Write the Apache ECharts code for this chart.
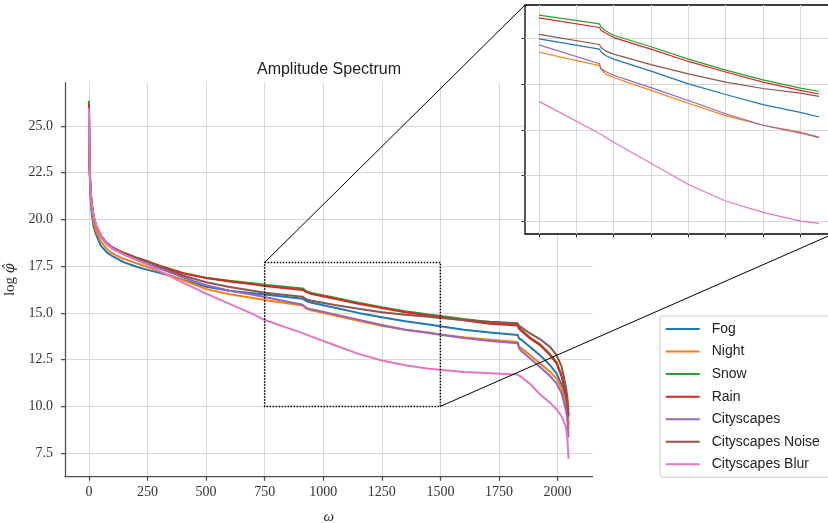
<!DOCTYPE html>
<html><head><meta charset="utf-8">
<script src="https://cdn.jsdelivr.net/npm/echarts@6/dist/echarts.min.js"></script>
<style>html,body{margin:0;padding:0;background:#fff}#c{width:828px;height:523px}</style>
</head><body><div id="c"></div>
<script>
// ---- data ----
const omega = [0,1,2,3,5,8,12,20,30,50, 75,100,150,200,250,300,400,500,600,700, 750,912,916,928,950,1050,1150,1250,1350,1450, 1500,1600,1712,1830,1836,1847,1883,1925,1968,1996, 2018,2036,2042,2047];
const fog = [25.9,24.2,23.2,22.5,21.6,20.9,20.25,19.6,19.2,18.6, 18.25,18.03,17.7,17.48,17.3,17.15,16.78,16.4,16.18,16.05, 15.98,15.76,15.7,15.62,15.54,15.28,15.0,14.77,14.55,14.38, 14.28,14.1,13.95,13.82,13.62,13.55,13.18,12.74,12.2,11.76, 11.14,10.33,9.85,9.0];
const night = [25.9,24.35,23.4,22.7,21.8,21.1,20.5,19.85,19.4,18.82, 18.42,18.18,17.88,17.66,17.45,17.22,16.75,16.27,16.0,15.8, 15.69,15.4,15.32,15.22,15.14,14.86,14.58,14.31,14.1,13.95, 13.84,13.7,13.56,13.45,13.2,13.1,12.74,12.3,11.85,11.5, 10.96,10.16,9.65,8.8];
const snow = [26.35,24.5,23.6,22.9,22.05,21.35,20.8,20.15,19.68,19.12, 18.72,18.47,18.17,17.95,17.74,17.52,17.14,16.88,16.72,16.58, 16.5,16.31,16.24,16.16,16.06,15.81,15.54,15.3,15.09,14.91, 14.84,14.67,14.5,14.4,14.22,14.08,13.68,13.33,12.8,12.36, 11.65,10.7,10.2,9.6];
const rain = [26.15,24.5,23.6,22.9,22.05,21.35,20.8,20.15,19.7,19.15, 18.75,18.5,18.2,17.97,17.76,17.52,17.12,16.86,16.68,16.53, 16.44,16.23,16.17,16.11,16.01,15.76,15.49,15.26,15.04,14.86, 14.78,14.6,14.42,14.32,14.15,14.02,13.63,13.28,12.74,12.3, 11.58,10.6,10.1,9.45];
const cityscapes = [25.9,24.45,23.55,22.85,22.0,21.3,20.75,20.1,19.65,19.08, 18.68,18.43,18.12,17.85,17.62,17.38,16.9,16.48,16.18,15.97, 15.85,15.44,15.34,15.27,15.19,14.92,14.64,14.35,14.1,13.93, 13.83,13.66,13.5,13.38,13.1,12.95,12.56,12.11,11.62,11.23, 10.69,9.8,9.3,8.35];
const cityscapesNoise = [25.9,24.5,23.6,22.9,22.05,21.35,20.8,20.15,19.7,19.15, 18.75,18.5,18.2,17.96,17.74,17.48,17.0,16.64,16.38,16.18, 16.08,15.86,15.8,15.72,15.65,15.42,15.22,15.04,14.9,14.8, 14.73,14.62,14.52,14.45,14.3,14.22,13.9,13.6,13.18,12.74, 12.11,11.05,10.5,9.8];
const cityscapesBlur = [25.95,24.5,23.6,22.9,22.05,21.35,20.8,20.15,19.7,19.12, 18.72,18.45,18.12,17.85,17.57,17.25,16.62,16.03,15.48,14.93, 14.62,13.92,13.9,13.84,13.73,13.27,12.81,12.45,12.2,12.01, 11.96,11.84,11.77,11.7,11.62,11.55,11.2,10.65,10.2,9.85, 9.45,8.9,8.3,7.2];

const seriesNames = ['Fog','Night','Snow','Rain','Cityscapes','Cityscapes Noise','Cityscapes Blur'];
const xTicks = [0,250,500,750,1000,1250,1500,1750,2000];
const yTicks = [7.5,10.0,12.5,15.0,17.5,20.0,22.5,25.0];
const zoomX = [750,1500];
const zoomY = [10,17.7];
const insetXTicks = [750,850,950,1050,1150,1250,1350,1450];
const insetYTicks = [12,13,14,15,16];

// ---- styling / layout ----
const colors = ['#1f77b4','#ff7f0e','#2ca02c','#d62728','#9467bd','#8c564b','#e377c2'];
const allValues = [fog,night,snow,rain,cityscapes,cityscapesNoise,cityscapesBlur];
const mainX = [-102.35, 2149.35], mainY = [6.24, 27.31];
const insX = [712.5, 1537.5], insY = [11.73, 16.72];
const serif = "'Liberation Serif', 'DejaVu Serif', serif";
const sans = "'Liberation Sans', Arial, sans-serif";
const spine = '#4d4d4d';
const gridCol = '#d9d9d9';

function pairs(vals){ return omega.map((x,i)=>[x, vals[i]]); }
function insetPairs(vals){ return omega.map((x,i)=>[x, vals[i]]).filter(p=>p[0]>=zoomX[0] && p[0]<=zoomX[1]); }

const series = [];
allValues.forEach((v,i)=>{
  series.push({name: seriesNames[i], type:'line', xAxisIndex:0, yAxisIndex:0, data: pairs(v),
    symbol:'none', color: colors[i], lineStyle:{width:2, color: colors[i]}, z:2, animation:false});
});
series[0].markArea = {silent:true, z:3, itemStyle:{color:'rgba(0,0,0,0)', borderColor:'#000', borderWidth:1.5, borderType:[1.5,1.5]},
  data:[[{coord:[zoomX[0], zoomY[1]]},{coord:[zoomX[1], zoomY[0]]}]]};
allValues.forEach((v,i)=>{
  series.push({name: seriesNames[i], type:'line', xAxisIndex:1, yAxisIndex:1, data: insetPairs(v),
    symbol:'none', color: colors[i], lineStyle:{width:1.2, color: colors[i]}, z:6, animation:false, clip:true});
});

const option = {
  animation:false,
  backgroundColor:'#fff',
  title:{text:'Amplitude Spectrum', left:329, top:62, textAlign:'center', padding:0,
    textStyle:{fontFamily:sans, fontSize:16, fontWeight:'normal', color:'#222'}},
  grid:[
    {left:65, top:82.7, width:527.5, height:394, outerBoundsMode:'none', containLabel:false, z:0},
    {left:525, top:5, width:308, height:229, show:true, backgroundColor:'#fff', borderColor:'#000', borderWidth:1.3, outerBoundsMode:'none', containLabel:false, z:4}
  ],
  legend:{orient:'vertical', left:660, top:316, padding:[6,14,6,5.7], itemWidth:34, itemHeight:14, itemGap:8.55,
    icon:'path://M0,0 L34,0 L34,2 L0,2 Z',
    backgroundColor:'#fff', borderColor:'#cccccc', borderWidth:1, borderRadius:3,
    data: seriesNames,
    textStyle:{fontFamily:sans, fontSize:14, color:'#222', padding:[0,0,0,7]}},
  xAxis:[
    {type:'value', gridIndex:0, min:mainX[0], max:mainX[1],
      axisLine:{show:true, onZero:false, lineStyle:{color:spine, width:1.25}},
      axisTick:{show:true, customValues:xTicks, length:4, lineStyle:{color:spine, width:1.25}},
      axisLabel:{customValues:xTicks, margin:9, fontFamily:serif, fontSize:14, color:'#333', formatter:v=>String(Math.round(v))},
      splitLine:{show:true, lineStyle:{color:gridCol, width:1}},
      name:'ω', nameLocation:'middle', nameGap:33,
      nameTextStyle:{fontFamily:serif, fontStyle:'italic', fontSize:15, color:'#333'}},
    {type:'value', gridIndex:1, min:insX[0], max:insX[1], z:5,
      axisLine:{show:false},
      axisTick:{show:true, customValues:insetXTicks, length:3.5, lineStyle:{color:'#333', width:1}},
      axisLabel:{show:false, customValues:insetXTicks},
      splitLine:{show:true, lineStyle:{color:gridCol, width:1}}}
  ],
  yAxis:[
    {type:'value', gridIndex:0, min:mainY[0], max:mainY[1],
      axisLine:{show:true, onZero:false, lineStyle:{color:spine, width:1.25}},
      axisTick:{show:true, customValues:yTicks, length:4, lineStyle:{color:spine, width:1.25}},
      axisLabel:{customValues:yTicks, margin:12, fontFamily:serif, fontSize:14, color:'#333', formatter:v=>v.toFixed(1)},
      splitLine:{show:true, lineStyle:{color:gridCol, width:1}},
      name:'{n|log }{i|φ̂}', nameLocation:'middle', nameGap:44,
      nameTextStyle:{rich:{n:{fontFamily:serif, fontSize:15, color:'#333'}, i:{fontFamily:"'DejaVu Serif', serif", fontStyle:'italic', fontSize:14, color:'#333'}}}},
    {type:'value', gridIndex:1, min:insY[0], max:insY[1], z:5,
      axisLine:{show:false, onZero:false},
      axisTick:{show:true, customValues:insetYTicks, length:3.5, lineStyle:{color:'#333', width:1}},
      axisLabel:{show:false, customValues:insetYTicks},
      splitLine:{show:true, lineStyle:{color:gridCol, width:1}}}
  ],
  series: series
};

const chart = echarts.init(document.getElementById('c'), null, {renderer:'canvas'});
chart.setOption(option);
const p1 = chart.convertToPixel({xAxisIndex:0, yAxisIndex:0}, [zoomX[0], zoomY[1]]);
const p2 = chart.convertToPixel({xAxisIndex:1, yAxisIndex:1}, [insX[0], insY[1]]);
const p3 = chart.convertToPixel({xAxisIndex:0, yAxisIndex:0}, [zoomX[1], zoomY[0]]);
const p4 = chart.convertToPixel({xAxisIndex:1, yAxisIndex:1}, [insX[1], insY[0]]);
chart.setOption({graphic:[
  {type:'line', z:3, silent:true, shape:{x1:p1[0], y1:p1[1], x2:p2[0], y2:p2[1]}, style:{stroke:'#000', lineWidth:1}},
  {type:'line', z:3, silent:true, shape:{x1:p3[0], y1:p3[1], x2:p4[0], y2:p4[1]}, style:{stroke:'#000', lineWidth:1}}
]});
</script></body></html>
